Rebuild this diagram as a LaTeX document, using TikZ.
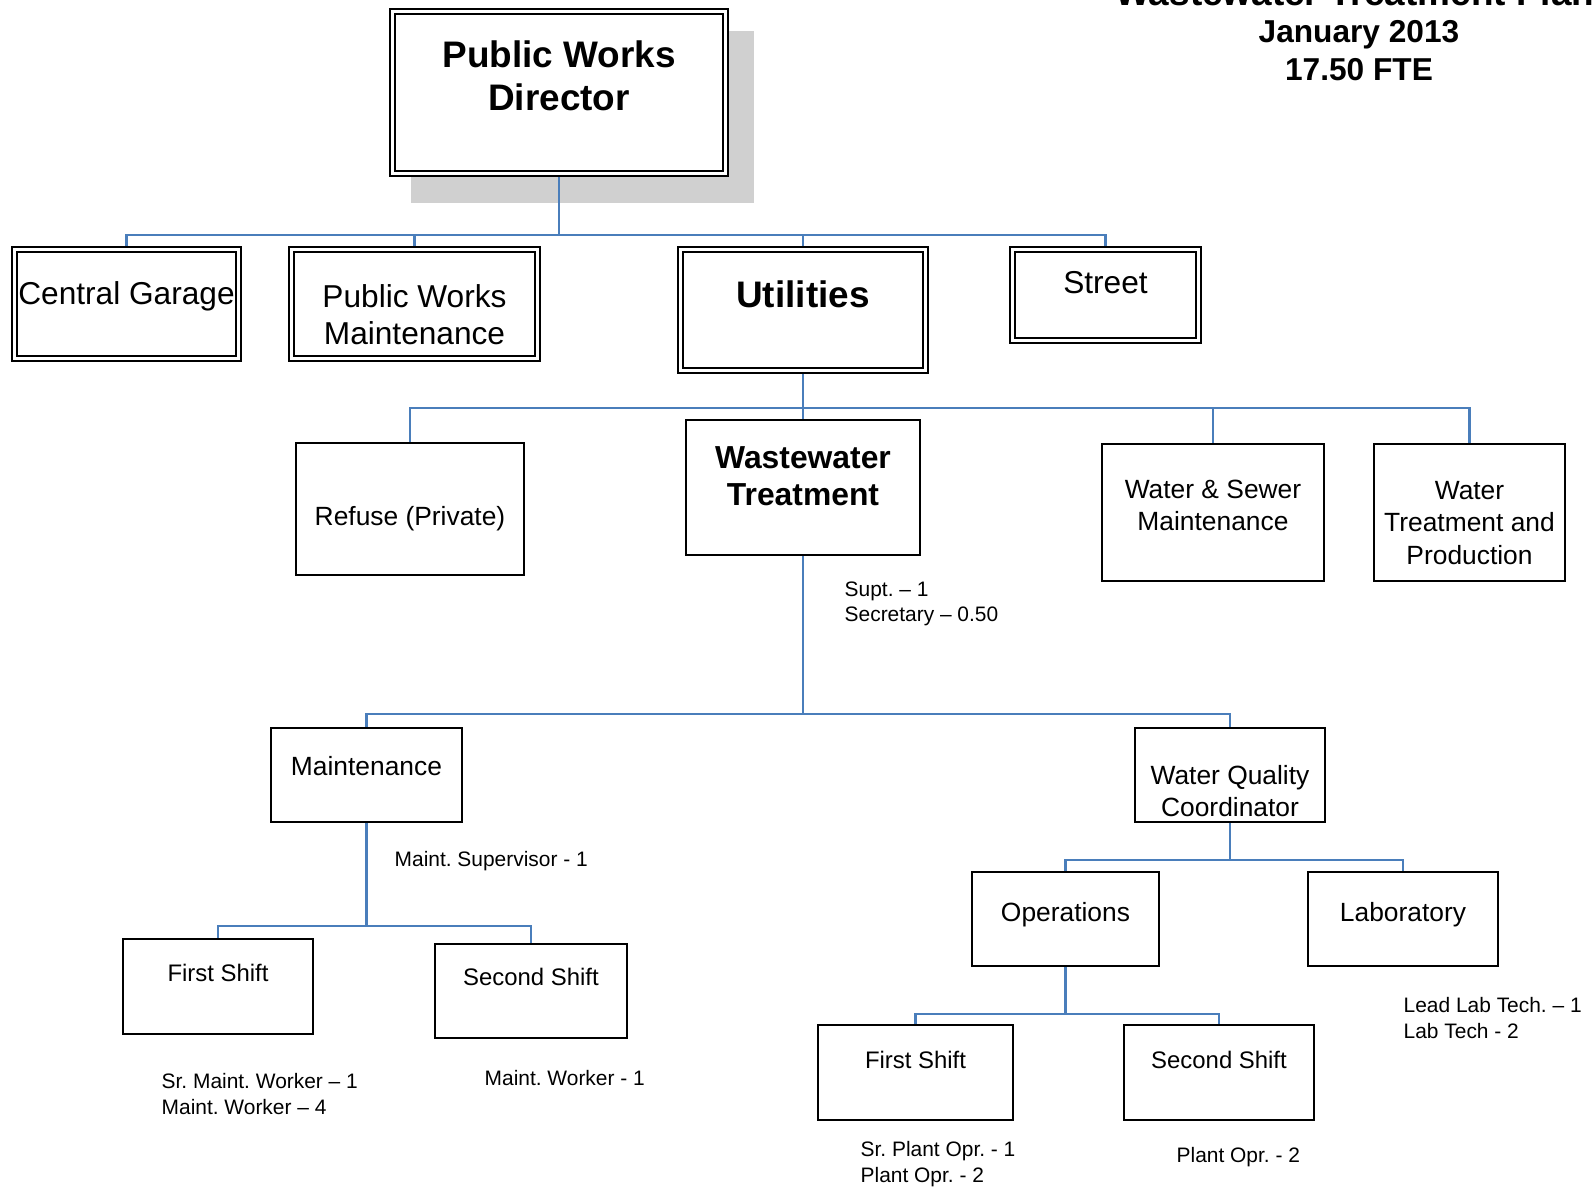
\documentclass[tikz,border=0pt]{standalone}
\usepackage{fontspec}
\setmainfont{Liberation Sans}
\usetikzlibrary{backgrounds}
\definecolor{linkblue}{RGB}{74,126,187}
\definecolor{shadowgray}{RGB}{208,208,208}
\begin{document}
\frenchspacing
\begin{tikzpicture}[x=0.01cm,y=-0.01cm,
  dbox/.style={rectangle, draw=black, line width=0.55pt, double=white, double distance=0.85pt, fill=white, inner sep=0pt},
  sbox/.style={rectangle, draw=black, line width=0.5pt, fill=white, inner sep=0pt},
  conn/.style={draw=linkblue, line width=0.65pt},
  txt/.style={anchor=north, inner sep=0pt, align=center},
  fbig/.style={font=\bfseries\fontsize{10.5}{12.2}\selectfont},
  fmid/.style={font=\fontsize{9}{10.5}\selectfont},
  fww/.style={font=\bfseries\fontsize{9.05}{10.4}\selectfont},
  fsmall/.style={font=\fontsize{7.5}{9.25}\selectfont},
  fshift/.style={font=\fontsize{6.8}{8}\selectfont},
  note/.style={anchor=north west, inner sep=0pt, align=left, font=\frenchspacing\fontsize{5.95}{7.3}\selectfont},
]
\useasboundingbox (0,0) rectangle (1596,1188);

% title (partly cut at the top edge, as in the reference)
\node[txt, font=\bfseries\fontsize{10.5}{12}\selectfont] (title) at (1361,-21.6) {Wastewater Treatment Plant};
\node[txt, font=\bfseries\fontsize{9}{10.95}\selectfont] (date) at (1359,19.6) {January 2013\\17.50 FTE};

% level 1
\node[dbox, minimum width=3.332cm, minimum height=1.622cm] (dir) at (559,92.5) {};
\node[txt, fbig] (dir-t) at (559,40) {Public Works\\Director};

% level 2
\node[dbox, minimum width=2.242cm, minimum height=1.092cm] (cg) at (126.5,304) {};
\node[txt, fmid] (cg-t) at (126.5,281) {Central Garage};
\node[dbox, minimum width=2.462cm, minimum height=1.092cm] (pwm) at (414.5,304) {};
\node[txt, fmid] (pwm-t) at (414.5,284) {Public Works\\Maintenance};
\node[dbox, minimum width=2.452cm, minimum height=1.212cm] (util) at (803,310) {};
\node[txt, fbig] (util-t) at (803,280) {Utilities};
\node[dbox, minimum width=1.862cm, minimum height=0.912cm] (street) at (1105.5,295) {};
\node[txt, fmid] (street-t) at (1105.5,271) {Street};

% level 3
\node[sbox, minimum width=2.283cm, minimum height=1.323cm] (refuse) at (410,509) {};
\node[txt, fsmall] (refuse-t) at (410,506) {Refuse (Private)};
\node[sbox, minimum width=2.343cm, minimum height=1.353cm] (ww) at (803,487.5) {};
\node[txt, fww] (ww-t) at (803,446) {Wastewater\\Treatment};
\node[sbox, minimum width=2.223cm, minimum height=1.373cm] (ws) at (1213,512.5) {};
\node[txt, fsmall] (ws-t) at (1213,479) {Water \& Sewer\\Maintenance};
\node[sbox, minimum width=1.913cm, minimum height=1.373cm] (wt) at (1469.5,512.5) {};
\node[txt, fsmall] (wt-t) at (1469.5,480.5) {Water\\Treatment and\\Production};

\node[note] (ww-n) at (844,581) {Supt. – 1\\Secretary – 0.50};

% level 4
\node[sbox, minimum width=1.913cm, minimum height=0.943cm] (maint) at (366.5,775) {};
\node[txt, fsmall] (maint-t) at (366.5,755.5) {Maintenance};
\node[sbox, minimum width=1.903cm, minimum height=0.943cm] (wqc) at (1230,775) {};
\node[txt, fsmall] (wqc-t) at (1230,764.5) {Water Quality\\Coordinator};

\node[note] (maint-n) at (394,850.5) {Maint. Supervisor - 1};

% level 5 (maintenance)
\node[sbox, minimum width=1.903cm, minimum height=0.953cm] (fsm) at (218,986.5) {};
\node[txt, fshift] (fsm-t) at (218,963.5) {First Shift};
\node[sbox, minimum width=1.923cm, minimum height=0.943cm] (ssm) at (531,991) {};
\node[txt, fshift] (ssm-t) at (531,967.5) {Second Shift};
\node[note] (fsm-n) at (161,1073) {Sr. Maint. Worker – 1\\Maint. Worker – 4};
\node[note] (ssm-n) at (484,1069.5) {Maint. Worker - 1};

% level 5 (water quality)
\node[sbox, minimum width=1.873cm, minimum height=0.943cm] (ops) at (1065.5,919) {};
\node[txt, fsmall] (ops-t) at (1065.5,901.5) {Operations};
\node[sbox, minimum width=1.903cm, minimum height=0.943cm] (lab) at (1403,919) {};
\node[txt, fsmall] (lab-t) at (1403,901.5) {Laboratory};
\node[note] (lab-n) at (1403,996.5) {Lead Lab Tech. – 1\\Lab Tech - 2};

% level 6 (operations)
\node[sbox, minimum width=1.953cm, minimum height=0.953cm] (fso) at (915.5,1072.5) {};
\node[txt, fshift] (fso-t) at (915.5,1050.5) {First Shift};
\node[sbox, minimum width=1.903cm, minimum height=0.953cm] (sso) at (1219,1072.5) {};
\node[txt, fshift] (sso-t) at (1219,1050.5) {Second Shift};
\node[note] (fso-n) at (860,1140.5) {Sr. Plant Opr. - 1\\Plant Opr. - 2};
\node[note] (sso-n) at (1176,1147) {Plant Opr. - 2};

% bus points
\coordinate (b1) at (559,235);
\coordinate (b2) at (803,408);
\coordinate (b3) at (803,714);
\coordinate (b4) at (366.5,926);
\coordinate (b5) at (1230,860);
\coordinate (b6) at (1065.5,1014);

\begin{scope}[on background layer]
  \fill[shadowgray] (411,31) rectangle (754,203);
  \draw[conn] (dir.south) -- (b1);
  \draw[conn] (b1) -| (cg.north);
  \draw[conn] (b1) -| (pwm.north);
  \draw[conn] (b1) -| (util.north);
  \draw[conn] (b1) -| (street.north);
  \draw[conn] (util.south) -- (b2);
  \draw[conn] (b2) -| (refuse.north);
  \draw[conn] (b2) -- (ww.north);
  \draw[conn] (b2) -| (ws.north);
  \draw[conn] (b2) -| (wt.north);
  \draw[conn] (ww.south) -- (b3);
  \draw[conn] (b3) -| (maint.north);
  \draw[conn] (b3) -| (wqc.north);
  \draw[conn] (maint.south) -- (b4);
  \draw[conn] (b4) -| (fsm.north);
  \draw[conn] (b4) -| (ssm.north);
  \draw[conn] (wqc.south) -- (b5);
  \draw[conn] (b5) -| (ops.north);
  \draw[conn] (b5) -| (lab.north);
  \draw[conn] (ops.south) -- (b6);
  \draw[conn] (b6) -| (fso.north);
  \draw[conn] (b6) -| (sso.north);
\end{scope}
\end{tikzpicture}
\end{document}
